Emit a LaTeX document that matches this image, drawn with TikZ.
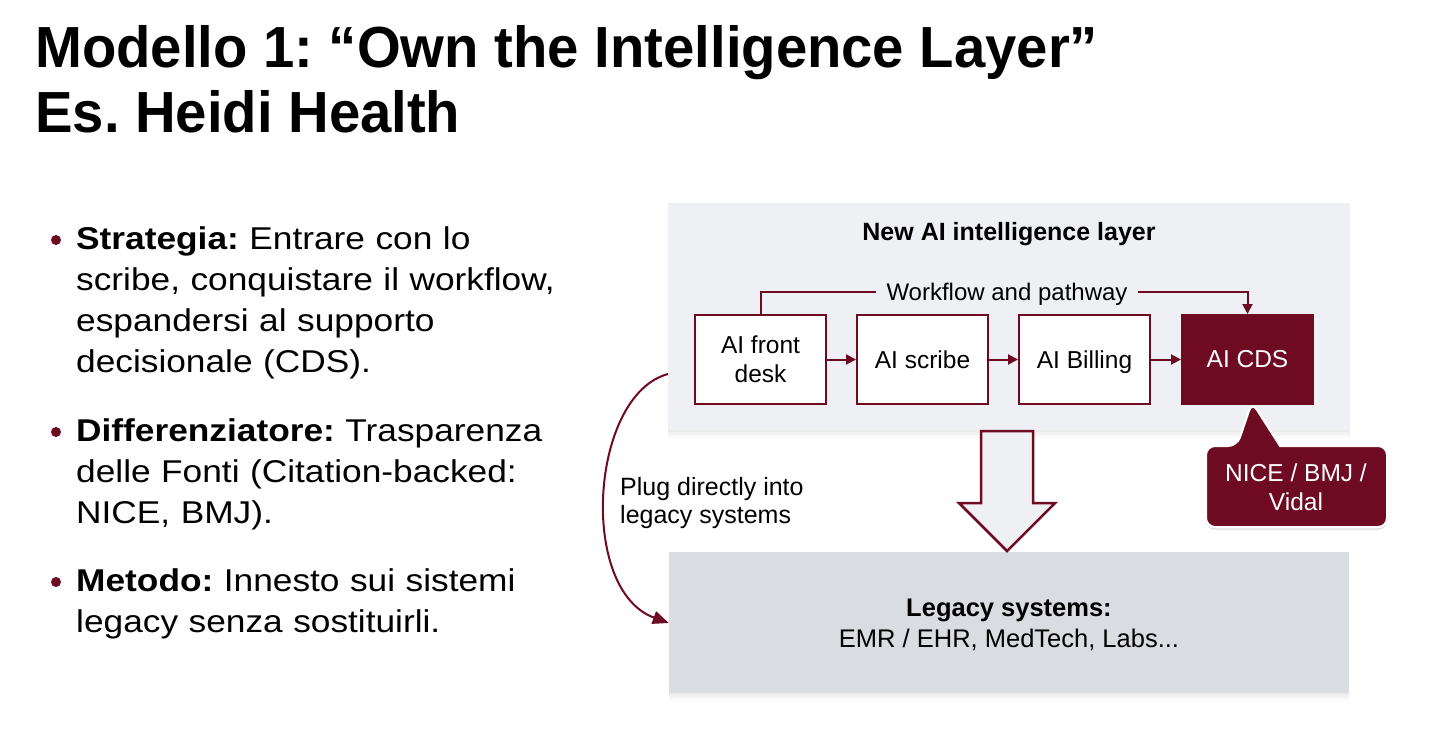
\documentclass[tikz,border=0pt]{standalone}
\usepackage{fontspec}
\setmainfont{Liberation Sans}
\newfontfamily\titlefont{Liberation Sans}[FakeStretch=0.97]
\newfontfamily\bodyfont{Liberation Sans}[FakeStretch=1.12]
\usetikzlibrary{shadows,arrows.meta,calc}
\definecolor{maroon}{HTML}{6E0B22}
\definecolor{panelA}{HTML}{EEF0F3}
\definecolor{panelB}{HTML}{D9DCE1}
\frenchspacing
\tikzset{
  panel/.style={draw=none, drop shadow={opacity=0.06, shadow xshift=0pt, shadow yshift=-2pt},
    drop shadow={opacity=0.06, shadow xshift=0pt, shadow yshift=-5pt},
    drop shadow={opacity=0.04, shadow xshift=0pt, shadow yshift=-8pt}},
  stage/.style={draw=maroon, line width=2pt, fill=white, minimum width=131pt, minimum height=89pt, align=center, font=\fontsize{24.5}{29}\selectfont, inner sep=0pt},
  flow/.style={draw=maroon, line width=2pt, -{Triangle[length=10pt,width=10pt]}},
  bul/.style={anchor=base west, align=left, font=\bodyfont\fontsize{31.5}{41}\selectfont, text width=560pt, inner sep=0pt},
  ttext/.style={anchor=base west, inner sep=0pt, font=\titlefont\fontsize{58}{64}\selectfont\bfseries},
}
\begin{document}
\begin{tikzpicture}[x=1pt,y=-1pt]
\useasboundingbox (0,0) rectangle (1456,736);
\fill[white] (0,0) rectangle (1456,736);
% title
\node[ttext] (t1) at (35,67) {Modello 1: “Own the Intelligence Layer”};
\node[ttext] (t2) at (35,132) {Es. Heidi Health};
% bullets
\node[bul] (b1) at (76,249) {\textbf{Strategia:} Entrare con lo\\scribe, conquistare il workflow,\\espandersi al supporto\\decisionale (CDS).};
\node[bul] (b2) at (76,441) {\textbf{Differenziatore:} Trasparenza\\delle Fonti (Citation-backed:\\NICE, BMJ).};
\node[bul] (b3) at (76,591) {\textbf{Metodo:} Innesto sui sistemi\\legacy senza sostituirli.};
\fill[maroon] (56,240) circle (5pt) (56,432) circle (5pt) (56,582) circle (5pt);
% panels
\node[panel, fill=panelA, minimum width=682pt, minimum height=227pt, inner sep=0pt] (top) at (1009,316.5) {};
\node[panel, fill=panelB, minimum width=680pt, minimum height=141pt, inner sep=0pt] (bot) at (1009,622.5) {};
\node[font=\fontsize{25}{29}\selectfont\bfseries] (ttl) at (1009,234) {New AI intelligence layer};
% stages
\node[stage] (fd) at (760.5,359.5) {AI front\\desk};
\node[stage] (sc) at (922.5,359.5) {AI scribe};
\node[stage, text depth=0pt] (bi) at (1084.5,359.5) {AI Billing};
\node[stage, fill=maroon, text=white] (cds) at (1247.5,359.5) {AI CDS};
\draw[flow] (fd) -- (sc);
\draw[flow] (sc) -- (bi);
\draw[flow] (bi) -- (cds);
% workflow
\node[font=\fontsize{24}{28}\selectfont, inner sep=0pt, text depth=0pt] (wf) at (1007,292) {Workflow and pathway};
\draw[draw=maroon, line width=2pt] (fd.north) -- (fd.north |- 0,292) -- ([xshift=-10pt]wf.west |- 0,292);
\draw[flow] ([xshift=10pt]wf.east |- 0,292) -- (cds.north |- 0,292) -- (cds.north);
% big arrow
\filldraw[draw=maroon, fill=panelA, line width=2.5pt, line join=miter]
  (981,431) -- (1033,431) -- (1033,503) -- (1055,503) -- (1007,551) -- (959,503) -- (981,503) -- cycle;
% callout
\coordinate (tip) at (1252,402);
\filldraw[draw=white, line width=2pt, fill=maroon, rounded corners=9pt, drop shadow={opacity=0.2, shadow xshift=0pt, shadow yshift=-3pt}]
  (1206,446) -- (1237,446) -- (tip) [sharp corners] -- (1280,446) [rounded corners=9pt] -- (1387,446) -- (1387,527) -- (1206,527) -- cycle;
\node[text=white, align=center, font=\fontsize{24.5}{29}\selectfont] (cal) at (1296,487) {NICE / BMJ /\\Vidal};
% plug arrow
\coordinate (ps) at (668,374);
\draw[maroon, line width=2pt, -{Triangle[length=16pt,width=13pt]}] (ps) .. controls (590,395) and (578,590) .. (bot.west |- 0,623);
\node[anchor=base west, align=left, inner sep=0pt, font=\fontsize{25}{28}\selectfont] (plug) at (620,523) {Plug directly into\\legacy systems};
% legacy text
\node[align=center, font=\fontsize{25.5}{31}\selectfont] (leg) at (1009,625) {\textbf{Legacy systems:}\\EMR / EHR, MedTech, Labs...};
\end{tikzpicture}
\end{document}
